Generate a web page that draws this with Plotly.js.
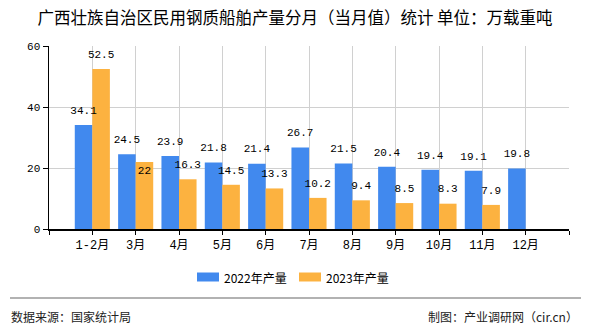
<!DOCTYPE html>
<html>
<head>
<meta charset="utf-8">
<script src="https://cdn.plot.ly/plotly-3.0.1.min.js"></script>
<style>html,body{margin:0;padding:0;background:#fff}#chart{width:590px;height:330px}</style>
</head>
<body>
<div id="chart"></div>
<script>
const categories = ["1-2月","3月","4月","5月","6月","7月","8月","9月","10月","11月","12月"];
const seriesNames = ["2022年产量","2023年产量"];
const values2022 = [34.1,24.5,23.9,21.8,21.4,26.7,21.5,20.4,19.4,19.1,19.8];
const values2023 = [52.5,22,16.3,14.5,13.3,10.2,9.4,8.5,8.3,7.9];
const yTicks = [0,20,40,60];
const titleText = "广西壮族自治区民用钢质船舶产量分月（当月值）统计 单位：万载重吨";
const sourceText = "数据来源：国家统计局";
const creditText = "制图：产业调研网（cir.cn）";

const colors = ["#4189EE","#FCB240"];
const monoFont = "'Liberation Mono', 'Noto Sans CJK SC', monospace";
const cjkFont = "'Noto Sans CJK SC', sans-serif";
const idx = categories.map((c,i)=>i);
const barW = 0.405;

const t1 = {
  type:'bar', name:seriesNames[0], x:idx, y:values2022,
  width:barW, offset:-barW,
  marker:{color:colors[0]}, hoverinfo:'none'
};
const idx2 = idx.slice(0,values2023.length);
const t2 = {
  type:'bar', name:seriesNames[1], x:idx2, y:values2023,
  width:barW, offset:0,
  marker:{color:colors[1]}, hoverinfo:'none'
};
const l1 = {
  type:'scatter', mode:'markers+text', x:idx.map(i=>i-barW/2), y:values2022,
  marker:{size:12, opacity:0},
  text:values2022.map(String), textposition:'top center',
  textfont:{family:monoFont,size:11,color:'#000'}, cliponaxis:false, hoverinfo:'none'
};
const l2 = {
  type:'scatter', mode:'markers+text', x:idx2.map(i=>i+barW/2), y:values2023,
  marker:{size:values2023.map((v,i)=> i===1 ? 4 : 12), opacity:0},
  text:values2023.map(String),
  textposition:values2023.map((v,i)=> i===1 ? 'bottom center' : 'top center'),
  textfont:{family:monoFont,size:11,color:'#000'}, cliponaxis:false, hoverinfo:'none'
};

const tickvals = [-1].concat(idx).concat([categories.length]);
const ticktext = [''].concat(categories).concat(['']);

function px(x){return (x-49)/520;}
function py(y){return (229-y)/183;}

const layout = {
  width:590, height:330,
  margin:{l:49,r:21,t:46,b:101},
  paper_bgcolor:'#fff', plot_bgcolor:'#fff',
  showlegend:false,
  barmode:'overlay',
  title:{text:titleText, x:0.5, xanchor:'center', y:1-18/330, yanchor:'middle',
    font:{family:cjkFont,size:16.5,color:'#000'}},
  xaxis:{
    range:[-1,categories.length], tickmode:'array', tickvals:tickvals, ticktext:ticktext,
    showgrid:true, gridcolor:'#d0d0d0', gridwidth:1,
    showline:true, linecolor:'#000', linewidth:1.5,
    ticks:'outside', ticklen:4, tickcolor:'#000',
    tickfont:{family:monoFont,size:12,color:'#000'}, zeroline:false, fixedrange:true
  },
  yaxis:{
    range:[0,60], tickmode:'array', tickvals:yTicks,
    showgrid:true, gridcolor:'#d0d0d0', gridwidth:1,
    showline:true, linecolor:'#000', linewidth:1.5,
    ticks:'outside', ticklen:5, tickcolor:'#000',
    tickfont:{family:monoFont,size:11,color:'#000'}, zeroline:false, fixedrange:true
  },
  shapes:[
    {type:'rect', xref:'paper', yref:'paper', x0:px(197), x1:px(219), y0:py(272.5), y1:py(281.5), fillcolor:colors[0], line:{width:0}},
    {type:'rect', xref:'paper', yref:'paper', x0:px(299), x1:px(321), y0:py(272.5), y1:py(281.5), fillcolor:colors[1], line:{width:0}},
    {type:'line', xref:'paper', yref:'paper', x0:px(10), x1:px(581), y0:py(298), y1:py(298), line:{color:'#999',width:1.5}}
  ],
  annotations:[
    {text:seriesNames[0], xref:'paper', yref:'paper', x:px(222), y:py(277), xanchor:'left', yanchor:'middle', showarrow:false, font:{family:cjkFont,size:12,color:'#000'}},
    {text:seriesNames[1], xref:'paper', yref:'paper', x:px(324), y:py(277), xanchor:'left', yanchor:'middle', showarrow:false, font:{family:cjkFont,size:12,color:'#000'}},
    {text:sourceText, xref:'paper', yref:'paper', x:px(9), y:py(316), xanchor:'left', yanchor:'middle', showarrow:false, font:{family:cjkFont,size:12,color:'#222'}},
    {text:creditText, xref:'paper', yref:'paper', x:px(580), y:py(316), xanchor:'right', yanchor:'middle', showarrow:false, font:{family:cjkFont,size:12,color:'#222'}}
  ]
};

Plotly.newPlot('chart',[t1,t2,l1,l2],layout,{staticPlot:true,displayModeBar:false});
</script>
</body>
</html>
